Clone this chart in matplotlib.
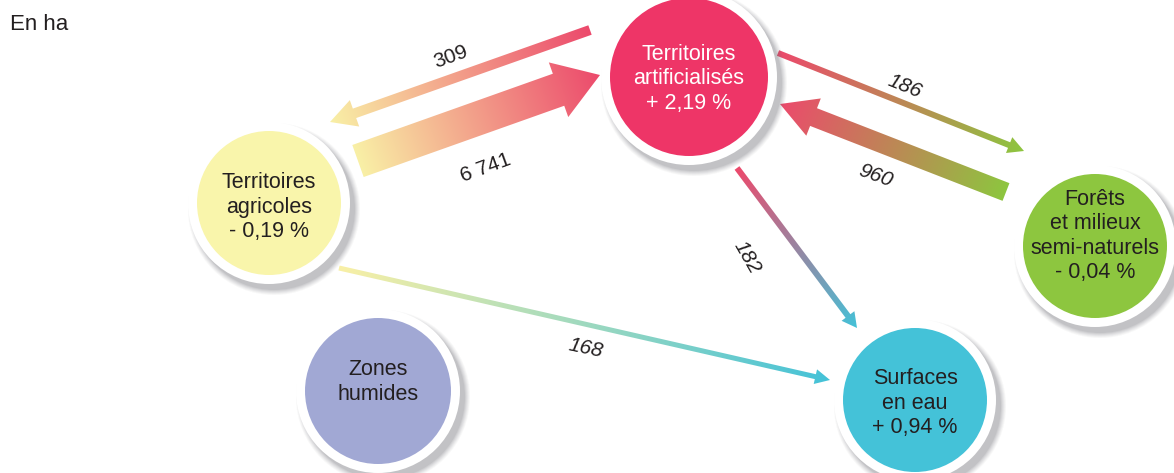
import numpy as np
import matplotlib
matplotlib.use("Agg")
import matplotlib.pyplot as plt
from matplotlib.patches import Circle, Polygon
from matplotlib.colors import to_rgb

plt.rcParams["font.family"] = ["Liberation Sans", "DejaVu Sans"]

# nodes: name, label, fill colour, text colour
node_keys = ["artif", "agri", "zones", "forets", "eau"]
node_labels = [
    "Territoires\nartificialisés\n+ 2,19 %",
    "Territoires\nagricoles\n- 0,19 %",
    "Zones\nhumides",
    "Forêts\net milieux\nsemi-naturels\n- 0,04 %",
    "Surfaces\nen eau\n+ 0,94 %",
]
node_colors = ["#ee3567", "#f9f5ab", "#a1a8d4", "#8dc63f", "#44c2d8"]
node_text_colors = ["white", "#231f20", "#231f20", "#231f20", "#231f20"]

# flows (ha): source -> target
flow_src = ["artif", "agri", "artif", "forets", "artif", "agri"]
flow_dst = ["agri", "artif", "forets", "artif", "eau", "eau"]
flow_values = [309, 6741, 186, 960, 182, 168]
flow_labels = ["309", "6 741", "186", "960", "182", "168"]

# layout (pixels, y down)
node_pos = {"artif": (689, 77), "agri": (269, 203), "zones": (378, 391),
            "forets": (1095, 246), "eau": (915, 400)}
node_r = {"artif": 79, "agri": 72, "zones": 73, "forets": 72, "eau": 72}
text_dy = {"artif": 2, "agri": 4, "zones": -9, "forets": -10, "eau": 3}

# arrow geometry: tail, tip, shaft width, head width, head length
arrow_geom = [
    ((590, 30), (330, 122), 10, 28, 26),
    ((358, 161), (600, 75), 34, 58, 44),
    ((778, 53), (1024, 151), 6, 17, 16),
    ((1006, 192), (780, 104), 19, 40, 36),
    ((737, 168), (857, 328), 6, 16, 15),
    ((339, 268), (830, 380), 5, 15, 15),
]
label_geom = [
    ((451, 57), 20, "normal"),
    ((486, 168), 20, "normal"),
    ((905, 86), -22, "italic"),
    ((876, 176), -20, "italic"),
    ((747, 257), -60, "italic"),
    ((586, 348), -12, "italic"),
]

fig = plt.figure(figsize=(11.74, 4.73), dpi=100)
ax = fig.add_axes([0, 0, 1, 1])
ax.set_axis_off()


def color_at(key):
    return to_rgb(node_colors[node_keys.index(key)])


def gradient_arrow(tail, tip, w, hw, hl, c0, c1):
    p0 = np.array(tail, float)
    p1 = np.array(tip, float)
    d = p1 - p0
    L = np.hypot(*d)
    u = d / L
    n = np.array([-u[1], u[0]])
    base = p1 - u * hl
    pts = np.array([p0 + n * w / 2, base + n * w / 2, base + n * hw / 2, p1,
                    base - n * hw / 2, base - n * w / 2, p0 - n * w / 2])
    poly = Polygon(pts, closed=True, facecolor="none", edgecolor="none")
    ax.add_patch(poly)
    xmin, ymin = pts.min(axis=0) - 2
    xmax, ymax = pts.max(axis=0) + 2
    xs = np.linspace(xmin, xmax, 200)
    ys = np.linspace(ymin, ymax, 200)
    X, Y = np.meshgrid(xs, ys)
    t = np.clip(((X - p0[0]) * u[0] + (Y - p0[1]) * u[1]) / L, 0, 1)
    c0 = np.array(c0)
    c1 = np.array(c1)
    img = c0[None, None, :] * (1 - t[..., None]) + c1[None, None, :] * t[..., None]
    im = ax.imshow(img, extent=[xmin, xmax, ymax, ymin], origin="upper",
                   interpolation="bilinear", zorder=2)
    im.set_clip_path(poly)


# circles with white ring and soft shadow
for key, lab, fc, tc in zip(node_keys, node_labels, node_colors, node_text_colors):
    x, y = node_pos[key]
    r = node_r[key]
    for k, a in zip(range(6), [0.05, 0.06, 0.07, 0.08, 0.1, 0.12]):
        ax.add_patch(Circle((x + 5, y + 6), r + 14 - k, facecolor="#6d6e71",
                            alpha=a, edgecolor="none", zorder=3))
    ax.add_patch(Circle((x, y), r + 9, facecolor="white", edgecolor="none", zorder=4))
    ax.add_patch(Circle((x, y), r, facecolor=fc, edgecolor="none", zorder=5))
    ax.text(x, y + text_dy[key], lab, ha="center", va="center", color=tc,
            fontsize=15.5, linespacing=1.22, zorder=6)

pale_yellow = to_rgb("#f9f0a6")
pink = to_rgb("#ec4a6c")
for src, dst, geom in zip(flow_src, flow_dst, arrow_geom):
    tail, tip, w, hw, hl = geom
    c0 = pink if src == "artif" else color_at(src)
    c1 = pink if dst == "artif" else color_at(dst)
    if src == "agri":
        c0 = pale_yellow
    if dst == "agri":
        c1 = pale_yellow
    gradient_arrow(tail, tip, w, hw, hl, c0, c1)

for lab, (pos, rot, style) in zip(flow_labels, label_geom):
    ax.text(pos[0], pos[1], lab, ha="center", va="center", rotation=rot,
            fontsize=15, style=style, color="#231f20", zorder=7,
            rotation_mode="anchor")

ax.text(10, 25, "En ha", ha="left", va="center", fontsize=16, color="#231f20")

ax.set_xlim(0, 1174)
ax.set_ylim(473, 0)
ax.set_aspect("auto")
fig.savefig("out.png", dpi=100, facecolor="white")
